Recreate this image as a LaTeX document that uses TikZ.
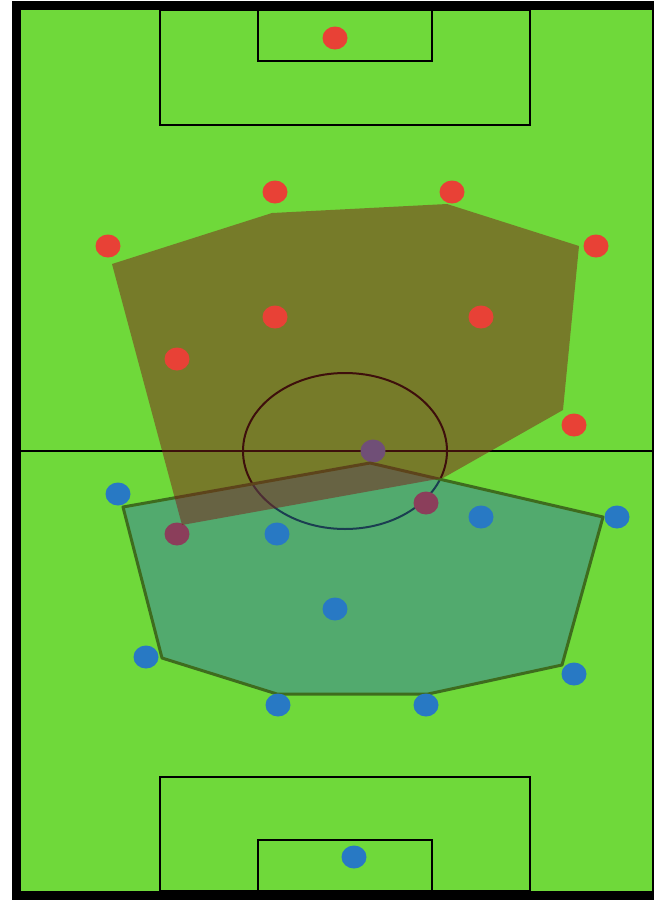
\documentclass[tikz,border=0pt]{standalone}
\usetikzlibrary{shapes.geometric}
\definecolor{grass}{RGB}{111,217,58}
\definecolor{redteam}{RGB}{232,65,54}
\definecolor{blueteam}{RGB}{40,121,196}
\definecolor{redunder}{RGB}{225,0,20}
\definecolor{blueunder}{RGB}{100,130,215}
\definecolor{redzone}{RGB}{125,30,25}
\definecolor{bluezone}{RGB}{55,125,162}
\definecolor{zoneedge}{RGB}{62,108,30}
\tikzset{pitchline/.style={line width=1pt,black},
         redp/.style={ellipse,fill=redteam,minimum width=12.5pt,
           minimum height=11.5pt,inner sep=0pt},
         bluep/.style={redp,fill=blueteam}}

\begin{document}
\begin{tikzpicture}[x=.5pt,y=-.5pt]
  \fill[white] (0,0) rectangle (654,901);
  \fill[black] (12,1) rectangle (654,900);
  \fill[grass] (21,10) rectangle (652,891);
  % pitch
  \draw[pitchline] (160,10) rectangle (530,125);
  \draw[pitchline] (258,10) rectangle (432,61);
  \draw[pitchline] (160,891) rectangle (530,777);
  \draw[pitchline] (258,891) rectangle (432,840);
  \draw[pitchline] (21,451) -- (652,451);
  \draw[pitchline] (345,451) ellipse [x radius=102, y radius=78];
  % players covered by the other side's zone
  \node[bluep,fill=blueunder] (b11) at (373,451) {};
  \node[redp,fill=redunder] (r10) at (177,534) {};
  \node[redp,fill=redunder] (r11) at (426,503) {};
  % zones
  \filldraw[fill=bluezone,fill opacity=.5,draw=zoneedge,line width=1.5pt,
    line join=round] (123,507) -- (370,463) -- (603,517) -- (562,665)
    -- (428,694) -- (277,694) -- (162,658) -- cycle;
  \fill[redzone,fill opacity=.5] (112,264) -- (272,213) -- (447,204)
    -- (579,246) -- (563,410) -- (443,478) -- (182,525) -- cycle;
  % players
  \foreach \n/\x/\y in {r1/335/38,r2/108/246,r3/275/192,r4/452/192,
      r5/596/246,r6/177/359,r7/275/317,r8/481/317,r9/574/425}
    \node[redp] (\n) at (\x,\y) {};
  \foreach \n/\x/\y in {b1/354/857,b2/146/657,b3/278/705,b4/426/705,
      b5/574/674,b6/118/494,b7/277/534,b8/335/609,b9/481/517,b10/617/517}
    \node[bluep] (\n) at (\x,\y) {};
\end{tikzpicture}
\end{document}
